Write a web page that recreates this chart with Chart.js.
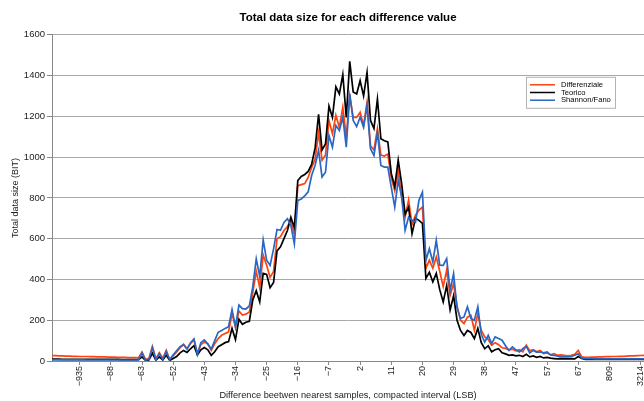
<!DOCTYPE html>
<html>
<head>
<meta charset="utf-8">
<script src="https://cdn.jsdelivr.net/npm/chart.js@4.4.1/dist/chart.umd.min.js"></script>
<style>
  html, body { margin: 0; padding: 0; background: #ffffff; }
</style>
</head>
<body>
<canvas id="sizeChart" width="644" height="401"></canvas>
<script>
// difference values (compacted interval, one category each)
const differenceValues = [
  -3580, -2861, -2214, -1863, -1577, -1320, -1148, -1024,
  -935,
  -812, -701, -566, -430, -305, -214, -151, -112,
  -88,
  -80, -75, -71, -69, -67, -66, -65, -64,
  -63,
  -62, -60, -59, -58, -57, -55, -54, -53,
  -52, -51, -50, -49, -48, -47, -46, -45, -44, -43,
  -42, -41, -40, -39, -38, -37, -36, -35, -34, -33,
  -32, -31, -30, -29, -28, -27, -26, -25, -24, -23,
  -22, -21, -20, -19, -18, -17, -16, -15, -14, -13,
  -12, -11, -10, -9, -8, -7, -6, -5, -4, -3,
  -2, -1, 0, 1, 2, 3, 4, 5, 6, 7,
  8, 9, 10, 11, 12, 13, 14, 15, 16, 17,
  18, 19, 20, 21, 22, 23, 24, 25, 26, 27,
  28, 29, 30, 31, 32, 33, 34, 35, 36, 37,
  38, 39, 40, 41, 42, 43, 44, 45, 46, 47,
  48, 49, 50, 51, 52, 53, 55, 56,
  57,
  58, 59, 60, 61, 62, 63, 65, 66,
  67,
  68, 69, 71, 74, 79, 91, 130, 288,
  809,
  917, 1040, 1305, 1580, 1852, 2134, 2560, 2871,
  3214,
  3705
];

// labels printed under the x axis
const tickLabels = [-935, -88, -63, -52, -43, -34, -25, -16, -7, 2, 11, 20, 29, 38, 47, 57, 67, 809, 3214];

const yTicks = [0, 200, 400, 600, 800, 1000, 1200, 1400, 1600];

const differenziale = [
  26, 26, 25, 25, 24, 24, 23, 23, 22, 22, 22, 21, 21, 20, 20, 20, 19, 19, 19, 18, 18, 18, 17, 17, 17, 16,
  44, 8, 12, 72, 10, 41, 12, 52, 7, 25,
  44, 65, 82, 61, 85, 105, 36, 80, 93, 85,
  52, 85, 110, 126, 135, 143, 233, 167, 245, 225,
  230, 240, 335, 440, 360, 520, 470, 410, 440, 600,
  610, 640, 660, 690, 620, 860, 865, 870, 900, 950,
  990, 1120, 985, 1010, 1180, 1115, 1205, 1145, 1245, 1100,
  1300, 1195, 1195, 1220, 1155, 1270, 1055, 1035, 1140, 1010,
  1005, 1015, 900, 835, 935, 805, 705, 790, 670, 715,
  740, 755, 455, 495, 455, 510, 440, 365, 445, 322,
  380, 270, 200, 183, 215, 224, 151, 232, 150, 118,
  105, 77, 90, 80, 65, 62, 55, 58, 50, 55,
  45, 77, 50, 56, 45, 52, 36, 40, 30, 36,
  28, 30, 28, 25, 28, 33, 52, 20,
  18, 18, 19, 19, 20, 20, 21, 21, 22, 22, 23, 23, 24, 25, 25, 26, 27, 28
];

const teorico = [
  9, 9, 9, 8, 8, 8, 8, 8, 8, 8, 8, 8, 8, 8, 8, 8, 8, 8, 8, 8, 7, 7, 7, 7, 7, 7,
  20, 3, 5, 38, 4, 20, 5, 28, 3, 12,
  22, 40, 52, 42, 60, 75, 30, 55, 66, 55,
  28, 45, 70, 80, 90, 95, 160, 105, 205, 180,
  190, 195, 300, 345, 290, 430, 425, 360, 385, 540,
  560, 600, 640, 705, 655, 885, 905, 915, 930, 965,
  1045, 1210, 1035, 1065, 1250, 1195, 1345, 1310, 1405, 1195,
  1470, 1320, 1310, 1375, 1300, 1415, 1180, 1140, 1285, 1090,
  1080, 1075, 920, 855, 985, 870, 720, 755, 625, 700,
  690, 675, 405, 435, 388, 430, 350, 290, 370, 250,
  320, 200, 150, 125, 150, 140, 110, 160, 90, 60,
  75, 45, 55, 60, 40, 35, 28, 30, 25, 28,
  22, 33, 20, 25, 18, 22, 15, 18, 14, 12,
  10, 12, 10, 10, 12, 10, 22, 12,
  8, 8, 8, 8, 8, 8, 8, 8, 8, 8, 8, 8, 8, 8, 8, 8, 8, 8
];

const shannonFano = [
  6, 6, 6, 6, 6, 6, 6, 6, 6, 6, 5, 5, 5, 5, 5, 5, 5, 5, 5, 5, 5, 5, 5, 5, 5, 5,
  39, 4, 8, 66, 5, 36, 8, 46, 6, 30,
  50, 70, 80, 58, 90, 108, 33, 90, 103, 83,
  58, 100, 141, 150, 160, 168, 252, 167, 274, 257,
  255, 270, 365, 501, 415, 594, 494, 469, 550, 645,
  641, 680, 698, 665, 575, 788, 795, 810, 830, 910,
  960, 1033, 902, 926, 1106, 1049, 1155, 1131, 1196, 1049,
  1310, 1180, 1150, 1196, 1147, 1253, 1041, 1008, 1122, 959,
  951, 951, 853, 755, 886, 804, 641, 706, 690, 681,
  788, 828, 494, 551, 486, 592, 470, 469, 502, 347,
  429, 260, 208, 216, 266, 208, 200, 266, 130, 93,
  126, 85, 118, 110, 102, 75, 52, 69, 55, 44,
  60, 72, 39, 52, 44, 44, 40, 44, 30, 28,
  24, 20, 20, 20, 22, 28, 35, 15,
  12, 11, 11, 10, 10, 10, 10, 10, 10, 10, 10, 10, 10, 10, 10, 10, 10, 10
];

function minusFmt(v) {
  return v < 0 ? '\u2212' + Math.abs(v) : String(v);
}

// legend drawn as a framed box inside the plot, top right
const boxLegend = {
  id: 'boxLegend',
  afterDraw(chart) {
    const ctx = chart.ctx;
    const area = chart.chartArea;
    const x = area.right - 118, y = area.top + 42, w = 89, h = 31;
    ctx.save();
    ctx.fillStyle = '#ffffff';
    ctx.fillRect(x, y, w, h);
    ctx.strokeStyle = '#b3b3b3';
    ctx.lineWidth = 1;
    ctx.strokeRect(x + 0.5, y + 0.5, w, h);
    ctx.font = '7.6px "Liberation Sans", Arial, sans-serif';
    ctx.textBaseline = 'middle';
    chart.data.datasets.forEach(function (ds, i) {
      const ry = y + 8 + i * 7.7;
      ctx.strokeStyle = ds.borderColor;
      ctx.lineWidth = 1.5;
      ctx.beginPath();
      ctx.moveTo(x + 4, ry);
      ctx.lineTo(x + 29, ry);
      ctx.stroke();
      ctx.fillStyle = '#000000';
      ctx.fillText(ds.label, x + 35, ry);
    });
    ctx.restore();
  }
};

const ctx = document.getElementById('sizeChart').getContext('2d');

const data = {
  labels: differenceValues,
  datasets: [
    { label: 'Differenziale', data: differenziale, borderColor: '#ff420e', order: 3 },
    { label: 'Teorico', data: teorico, borderColor: '#000000', order: 2 },
    { label: 'Shannon/Fano', data: shannonFano, borderColor: '#2a66c4', order: 1 }
  ]
};
data.datasets.forEach(function (ds) {
  ds.borderWidth = 1.7;
  ds.pointRadius = 0;
  ds.tension = 0;
  ds.fill = false;
});

const config = {
  type: 'line',
  data: data,
  options: {
    responsive: false,
    animation: false,
    devicePixelRatio: 1,
    layout: { padding: 0 },
    plugins: {
      legend: { display: false },
      tooltip: { enabled: false },
      title: {
        display: true,
        fullSize: false,
        text: 'Total data size for each difference value',
        color: '#000000',
        font: { family: '"Liberation Sans", Arial, sans-serif', weight: 'bold', size: 11.5 },
        padding: { top: 11, bottom: 10 }
      }
    },
    scales: {
      x: {
        type: 'category',
        offset: false,
        grid: { drawOnChartArea: false, drawTicks: true, tickLength: 4, color: '#888888' },
        border: { color: '#888888' },
        ticks: {
          autoSkip: false,
          minRotation: 90,
          maxRotation: 90,
          padding: 1,
          color: '#222222',
          font: { family: '"Liberation Sans", Arial, sans-serif', size: 9 },
          callback: function (val, index) {
            const v = differenceValues[index];
            return tickLabels.includes(v) ? minusFmt(v) : null;
          }
        },
        title: {
          display: true,
          text: 'Difference beetwen nearest samples, compacted interval (LSB)',
          color: '#222222',
          font: { family: '"Liberation Sans", Arial, sans-serif', size: 9.2 },
          padding: { top: 0, bottom: 0 }
        },
        afterFit: function (s) {
          s.height = 40;
          s.paddingLeft = 0;
          s.paddingRight = 0;
        }
      },
      y: {
        min: 0,
        max: 1600,
        afterBuildTicks: function (s) {
          s.ticks = yTicks.map(function (v) { return { value: v }; });
        },
        grid: { color: '#a8a8a8', tickLength: 5, tickColor: '#888888' },
        border: { color: '#888888' },
        ticks: {
          padding: 2,
          color: '#222222',
          font: { family: '"Liberation Sans", Arial, sans-serif', size: 9.5 },
          callback: function (v) { return String(v); }
        },
        title: {
          display: true,
          text: 'Total data size (BIT)',
          color: '#222222',
          font: { family: '"Liberation Sans", Arial, sans-serif', size: 9 },
          padding: { top: 10, bottom: 0 }
        },
        afterFit: function (s) {
          s.width = 52;
        }
      }
    }
  },
  plugins: [boxLegend]
};

const sizeChart = new Chart(ctx, config);
</script>
</body>
</html>
